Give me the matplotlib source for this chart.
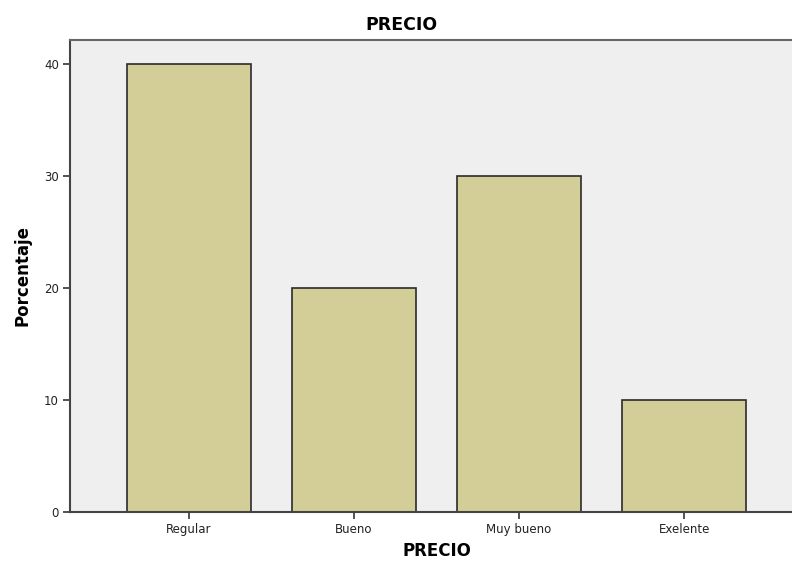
import matplotlib
matplotlib.use('Agg')
import matplotlib.pyplot as plt

categories = ['Regular', 'Bueno', 'Muy bueno', 'Exelente']
percentages = [40, 20, 30, 10]
y_ticks = [0, 10, 20, 30, 40]

fig = plt.figure(figsize=(7.92, 5.61), dpi=100)
ax = fig.add_axes([70 / 792, 49 / 561, 733 / 792, 472 / 561])
ax.set_facecolor('#efefef')

x = list(range(len(categories)))
ax.bar(x, percentages, width=0.75, color='#d3ce97', edgecolor='#2b2b2b',
       linewidth=1.2, zorder=2)

ax.set_xlim(-0.72, 3.72)
ax.set_ylim(0, 42.14)
ax.set_xticks(x)
ax.set_xticklabels(categories, fontsize=8.5, color='#222222')
ax.set_yticks(y_ticks)
ax.set_yticklabels([str(v) for v in y_ticks], fontsize=8.5, color='#222222')

for side in ['left', 'bottom']:
    ax.spines[side].set_color('#444444')
    ax.spines[side].set_linewidth(1.5)
ax.spines['top'].set_color('#666666')
ax.spines['top'].set_linewidth(1.5)
ax.spines['right'].set_visible(False)
ax.tick_params(axis='both', direction='out', length=5, width=1.3,
               color='#444444', pad=3)

ax.set_xlabel('PRECIO', fontsize=12, fontweight='bold', labelpad=4)
ax.set_ylabel('Porcentaje', fontsize=12, fontweight='bold', labelpad=9)
fig.text(401 / 792, 1 - 25 / 561, 'PRECIO', fontsize=12.5, fontweight='bold',
         ha='center', va='center')

fig.savefig('out.png', dpi=100)
